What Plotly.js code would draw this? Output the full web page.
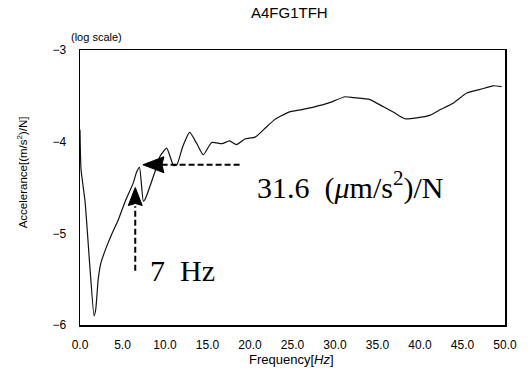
<!DOCTYPE html>
<html>
<head>
<meta charset="utf-8">
<script src="https://cdn.plot.ly/plotly-3.0.1.min.js"></script>
<style>
  html, body { margin: 0; padding: 0; background: #fff; }
  #chart { width: 530px; height: 372px; }
</style>
</head>
<body>
<div id="chart"></div>
<script>
// Frequency response of measurement point A4FG1TFH
const freqHz = [0, 0.12, 0.6, 1.18, 1.65, 1.85, 2.15, 2.47, 3.14, 3.73, 4.51, 5.29, 6.27, 6.67, 7.0,
  7.45, 7.65, 8.82, 9.4, 10.2, 11.0, 11.4, 12.1, 12.9, 13.8, 14.5, 15.5, 16.7, 17.6, 18.4, 19.4,
  20.6, 21.8, 22.9, 24.5, 26.1, 27.6, 29.2, 31.2, 32.2, 34.1, 35.7, 36.9, 38.2, 39.6, 41.2, 42.4,
  43.9, 45.5, 47.1, 48.6, 49.6];
// accelerance in (m/s^2)/N
const accelerance = [1.35e-4, 5.0e-5, 2.2e-5, 4.1e-6, 1.26e-6, 1.48e-6, 3.2e-6, 4.8e-6, 7.2e-6, 9.8e-6,
  1.41e-5, 2.2e-5, 3.55e-5, 4.7e-5, 5.25e-5,
  2.24e-5, 2.34e-5, 4.7e-5, 6.9e-5, 8.5e-5, 5.5e-5, 5.6e-5, 8.9e-5, 1.26e-4, 9.3e-5, 7.2e-5, 9.8e-5,
  9.5e-5, 1.02e-4, 9.3e-5, 1.07e-4,
  1.12e-4, 1.41e-4, 1.74e-4, 2.09e-4, 2.24e-4, 2.4e-4, 2.63e-4, 3.09e-4, 3.02e-4, 2.88e-4, 2.4e-4,
  2.09e-4, 1.78e-4, 1.82e-4, 1.95e-4, 2.24e-4, 2.63e-4, 3.39e-4, 3.72e-4, 4.07e-4, 3.98e-4];

// axis ticks
const xRange = [0, 50];
const xTickVals = [0, 5, 10, 15, 20, 25, 30, 35, 40, 45, 50];
const xTickText = ['0.0', '5.0', '10.0', '15.0', '20.0', '25.0', '30.0', '35.0', '40.0', '45.0', '50.0'];
const xMinorStep = 1;
const yDecades = [-6, -5, -4, -3];
const yTickText = ['\u22126', '\u22125', '\u22124', '\u22123'];
const yMinorMultipliers = [2, 4, 6, 8];

// resonance callout
const peakFreq = 7;               // Hz
const peakLabelValue = 31.6e-6;   // (m/s^2)/N
const peakLevelValue = 5.6e-5;    // level marked by the horizontal arrow
const horizArrowFreq = [7.4, 18.8];
const vertArrowBottom = 3.9e-6;

const W = 530, H = 372;
const margin = { l: 80, r: 25, t: 50, b: 47 };
const plotW = W - margin.l - margin.r;
const plotH = H - margin.t - margin.b;
const yLogRange = [yDecades[0], yDecades[yDecades.length - 1]];

const yTickVals = yDecades.map(d => Math.pow(10, d));
const yMinorVals = [];
yDecades.slice(0, -1).forEach(d => yMinorMultipliers.forEach(m => yMinorVals.push(m * Math.pow(10, d))));
const xMinorVals = [];
for (let v = xRange[0]; v <= xRange[1]; v += xMinorStep) if (xTickVals.indexOf(v) < 0) xMinorVals.push(v);

const trace = {
  x: freqHz,
  y: accelerance,
  type: 'scatter',
  mode: 'lines',
  line: { color: '#111', width: 1.2, shape: 'spline', smoothing: 0.5 },
  hoverinfo: 'skip'
};

// outward tick marks, drawn as short line markers hanging off the axis lines
function xTicks(vals, len, width) {
  const offset = (len / 2) / plotH * (yLogRange[1] - yLogRange[0]);
  return { x: vals, y: vals.map(() => Math.pow(10, yLogRange[0] - offset)), type: 'scatter', mode: 'markers',
    cliponaxis: false, hoverinfo: 'skip',
    marker: { symbol: 'line-ns', size: len, color: '#000', line: { color: '#000', width: width } } };
}
function yTicks(vals, len, width) {
  const offset = (len / 2) / plotW * (xRange[1] - xRange[0]);
  return { x: vals.map(() => xRange[0] - offset), y: vals, type: 'scatter', mode: 'markers',
    cliponaxis: false, hoverinfo: 'skip',
    marker: { symbol: 'line-ew', size: len, color: '#000', line: { color: '#000', width: width } } };
}
const tickTraces = [
  xTicks(xTickVals, 9, 1.3), xTicks(xMinorVals, 4, 1),
  yTicks(yTickVals, 10, 1.3), yTicks(yMinorVals, 4, 1)
];

const vertArrowX = peakFreq - 0.5;
const shapes = [
  // horizontal dashed arrow
  { type: 'line', xref: 'x', yref: 'y', x0: horizArrowFreq[0] + 2.2, x1: horizArrowFreq[1],
    y0: peakLevelValue, y1: peakLevelValue, line: { color: '#000', width: 2, dash: '6px,3px' } },
  { type: 'path', xref: 'x', yref: 'y', xsizemode: 'pixel', ysizemode: 'pixel',
    xanchor: horizArrowFreq[0], yanchor: peakLevelValue,
    path: 'M0,0 L21,8 L19,0 L21,-8 Z', fillcolor: '#000', line: { color: '#000', width: 1 } },
  // vertical dashed arrow
  { type: 'line', xref: 'x', yref: 'y', x0: vertArrowX, x1: vertArrowX,
    y0: vertArrowBottom, y1: peakLabelValue / 1.6, line: { color: '#000', width: 2, dash: '6px,3px' } },
  { type: 'path', xref: 'x', yref: 'y', xsizemode: 'pixel', ysizemode: 'pixel',
    xanchor: vertArrowX, yanchor: peakLabelValue,
    path: 'M0,0 L-7,-18 L0,-16 L7,-18 Z', fillcolor: '#000', line: { color: '#000', width: 1 } }
];

const serif = 'Liberation Serif, Times New Roman, serif';
const sans = 'Liberation Sans, Arial, sans-serif';
const annotations = [
  // chart title
  { xref: 'paper', yref: 'paper', x: 0.494, y: 1.135, xanchor: 'center', yanchor: 'middle',
    text: 'A4FG1TFH', showarrow: false, font: { family: sans, size: 15, color: '#000' } },
  { xref: 'paper', yref: 'paper', x: -0.026, y: 1.048, xanchor: 'left', yanchor: 'middle',
    text: '(log scale)', showarrow: false, font: { family: sans, size: 11, color: '#000' } },
  // axis titles
  { xref: 'paper', yref: 'paper', x: -0.136, y: 0.556, xanchor: 'center', yanchor: 'middle', textangle: -90,
    text: 'Accelerance[(m/s<sup>2</sup>)/N]', showarrow: false, font: { family: sans, size: 11.5, color: '#000' } },
  { xref: 'paper', yref: 'paper', x: 0.497, y: -0.127, xanchor: 'center', yanchor: 'middle',
    text: 'Frequency[<i>Hz</i>]', showarrow: false, font: { family: sans, size: 13, color: '#000' } },
  // resonance callouts
  { xref: 'x', yref: 'y', x: 20.6, y: Math.log10(peakLabelValue) + 0.02, xanchor: 'left', yanchor: 'middle',
    text: '31.6\u00a0\u00a0(<i>\u03bc</i>m/s<sup>2</sup>)/N', showarrow: false,
    font: { family: serif, size: 30, color: '#000' } },
  { xref: 'x', yref: 'y', x: 8.0, y: -5.41, xanchor: 'left', yanchor: 'middle',
    text: peakFreq + '\u00a0\u00a0Hz', showarrow: false,
    font: { family: serif, size: 30, color: '#000' } }
];

const layout = {
  width: W,
  height: H,
  margin: margin,
  showlegend: false,
  xaxis: {
    range: xRange,
    tickmode: 'array', tickvals: xTickVals, ticktext: xTickText,
    ticks: 'outside', ticklen: 8, tickcolor: 'rgba(0,0,0,0)',
    tickfont: { family: sans, size: 12, color: '#000' },
    showgrid: false, zeroline: false,
    showline: true, linecolor: '#000', linewidth: 1.5, mirror: true
  },
  yaxis: {
    type: 'log',
    range: yLogRange,
    tickmode: 'array', tickvals: yTickVals, ticktext: yTickText,
    ticks: 'outside', ticklen: 10, tickcolor: 'rgba(0,0,0,0)',
    tickfont: { family: sans, size: 12, color: '#000' },
    showgrid: false, zeroline: false,
    showline: true, linecolor: '#000', linewidth: 1.5, mirror: true
  },
  shapes: shapes,
  annotations: annotations
};

Plotly.newPlot('chart', [trace].concat(tickTraces), layout, { staticPlot: true });
</script>
</body>
</html>
